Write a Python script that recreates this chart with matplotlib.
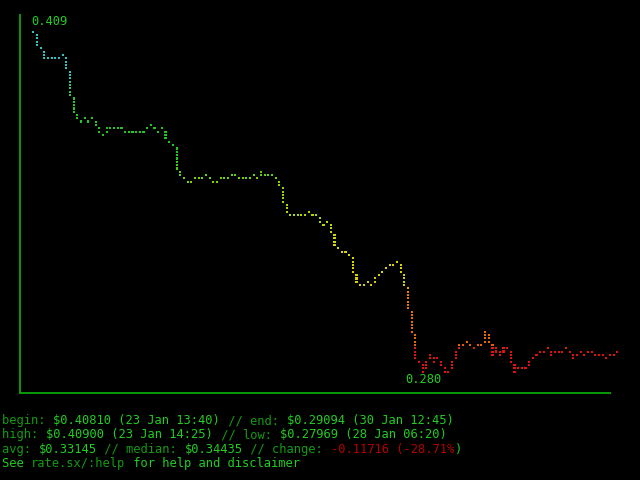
import numpy as np
import matplotlib.pyplot as plt
from matplotlib.colors import LinearSegmentedColormap

# price per chart column (23 Jan 13:40 -> 30 Jan 12:45)
prices = [
    0.4090, 0.4039, 0.4027, 0.3989, 0.3989, 0.3989, 0.3989, 0.3989, 0.4001, 0.3951,
    0.3850, 0.3786, 0.3761, 0.3749, 0.3761, 0.3749, 0.3761, 0.3736, 0.3711, 0.3698,
    0.3723, 0.3723, 0.3723, 0.3723, 0.3723, 0.3711, 0.3711, 0.3711, 0.3711, 0.3711,
    0.3711, 0.3723, 0.3736, 0.3723, 0.3711, 0.3723, 0.3685, 0.3673, 0.3660, 0.3571,
    0.3546, 0.3534, 0.3521, 0.3521, 0.3534, 0.3534, 0.3534, 0.3546, 0.3534, 0.3521,
    0.3521, 0.3534, 0.3534, 0.3534, 0.3546, 0.3546, 0.3534, 0.3534, 0.3534, 0.3534,
    0.3546, 0.3534, 0.3559, 0.3546, 0.3546, 0.3546, 0.3534, 0.3508, 0.3445, 0.3407,
    0.3394, 0.3394, 0.3394, 0.3394, 0.3394, 0.3407, 0.3394, 0.3394, 0.3369, 0.3356,
    0.3369, 0.3331, 0.3281, 0.3268, 0.3255, 0.3255, 0.3243, 0.3179, 0.3141, 0.3129,
    0.3129, 0.3141, 0.3129, 0.3154, 0.3167, 0.3179, 0.3192, 0.3205, 0.3205, 0.3217,
    0.3179, 0.3129, 0.3040, 0.2952, 0.2851, 0.2838, 0.2800, 0.2838, 0.2863, 0.2838,
    0.2851, 0.2825, 0.2800, 0.2800, 0.2838, 0.2876, 0.2901, 0.2901, 0.2914, 0.2901,
    0.2889, 0.2901, 0.2901, 0.2952, 0.2914, 0.2863, 0.2889, 0.2863, 0.2889, 0.2889,
    0.2838, 0.2800, 0.2813, 0.2813, 0.2813, 0.2838, 0.2851, 0.2863, 0.2876, 0.2876,
    0.2889, 0.2863, 0.2876, 0.2876, 0.2876, 0.2889, 0.2876, 0.2851, 0.2863, 0.2876,
    0.2863, 0.2876, 0.2876, 0.2863, 0.2863, 0.2863, 0.2851, 0.2863, 0.2863, 0.2876,
]

# summary lines under the chart
begin_txt = "$0.40810 (23 Jan 13:40)"
end_txt = "$0.29094 (30 Jan 12:45)"
high_txt = "$0.40900 (23 Jan 14:25)"
low_txt = "$0.27969 (28 Jan 06:20)"
avg_txt = "$0.33145"
median_txt = "$0.34435"
change_txt = "-0.11716 (-28.71%"

DIM = '#139a13'
BRIGHT = '#22cc22'
RED = '#b40000'
AXIS = '#0a9a0a'
ROWS = 102  # braille dot rows between high and low

y = np.array(prices)
hi, lo = y.max(), y.min()
step = (hi - lo) / ROWS

# value -> colour, cyan at top, red at bottom
cmap = LinearSegmentedColormap.from_list('rate', [
    (0.00, '#2ec4c4'), (0.12, '#2ec4c4'), (0.21, '#22c822'), (0.37, '#22c822'),
    (0.45, '#8cd400'), (0.56, '#b8d800'), (0.63, '#d8d800'), (0.75, '#d8cc00'),
    (0.765, '#e87800'), (0.92, '#e86800'), (0.935, '#e01010'), (1.00, '#e01010'),
])

# dots: one per column plus vertical connectors
xs, ys = [], []
for i, v in enumerate(y):
    prev = y[i - 1] if i > 0 else v
    n = int(round(abs(prev - v) / step))
    sgn = 1 if prev > v else -1
    for k in range(max(n, 1)):
        xs.append(i)
        ys.append(v + sgn * k * step)
xs, ys = np.array(xs), np.array(ys)
cols = cmap((hi - ys) / (hi - lo))

fig = plt.figure(figsize=(6.4, 4.8), dpi=100, facecolor='black')
ax = fig.add_axes([20 / 640, 87 / 480, 590 / 640, 378 / 480], facecolor='black')

ax.scatter(xs, ys, c=cols, marker='s', s=2.3, linewidths=0, clip_on=False,
           antialiased=False)

ax.set_xlim(-3.62, 157.0)
ax.set_ylim(lo - 6.4 * step, hi + 5.0 * step)
for s in ['top', 'right']:
    ax.spines[s].set_visible(False)
for s in ['left', 'bottom']:
    ax.spines[s].set_color(AXIS)
    ax.spines[s].set_linewidth(1.4)
ax.set_xticks([])
ax.set_yticks([])

mono = dict(family='DejaVu Sans Mono', fontsize=8.75)
ax.annotate(f'{hi:.3f}', (int(np.argmax(y)), hi), xytext=(-1.6, 7.2),
            textcoords='offset points', ha='left', va='center', color=BRIGHT,
            annotation_clip=False, **mono)
ax.annotate(f'{lo:.3f}', (int(np.argmin(y)), lo), xytext=(0.5, -6.0),
            textcoords='offset points', ha='center', va='center', color=BRIGHT,
            annotation_clip=False, **mono)

# coloured text lines (monospace: place segments by char count)
lines = [
    [("begin: ", DIM), (begin_txt, BRIGHT), (" // end: ", DIM), (end_txt, BRIGHT)],
    [("high: ", DIM), (high_txt, BRIGHT), (" // low: ", DIM), (low_txt, BRIGHT)],
    [("avg: ", DIM), (avg_txt, BRIGHT), (" // median: ", DIM), (median_txt, BRIGHT),
     (" // change: ", DIM), (change_txt, RED), (")", BRIGHT)],
    [("See ", BRIGHT), ("rate.sx/:help", DIM), (" for help and disclaimer", BRIGHT)],
]
char_w = 7.31
base = 424.0
for j, segs in enumerate(lines):
    pos = 0
    for txt, c in segs:
        fig.text((2 + pos * char_w) / 640, 1 - (base + j * 14.35) / 480, txt,
                 color=c, ha='left', va='baseline', **mono)
        pos += len(txt)

fig.savefig('out.png', dpi=100, facecolor='black')
